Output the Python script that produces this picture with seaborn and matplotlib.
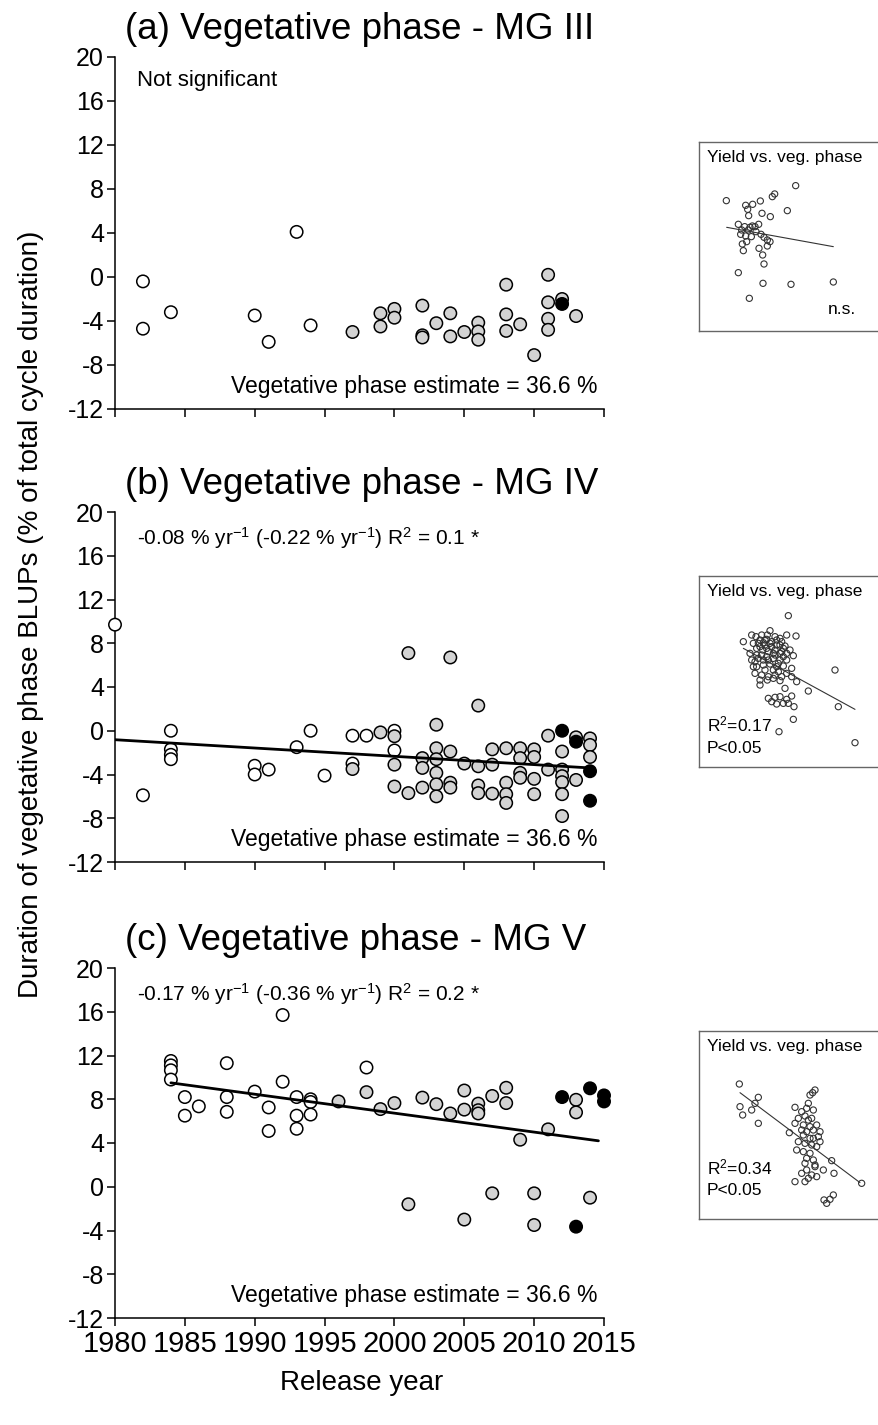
import numpy as np
import pandas as pd
import matplotlib
matplotlib.use("Agg")
import matplotlib.pyplot as plt
import seaborn as sns

# ---------------- data ----------------
# Panel (a) MG III
a_open_year = [1982, 1982, 1984, 1990, 1991, 1993, 1994]
a_open_val = [-0.4, -4.7, -3.2, -3.5, -5.9, 4.1, -4.4]
a_gray_year = [1997, 1999, 1999, 2000, 2000, 2002, 2002, 2002, 2003, 2004, 2004, 2005,
               2006, 2006, 2006, 2008, 2008, 2008, 2009, 2010, 2011, 2011, 2011, 2011,
               2012, 2013]
a_gray_val = [-5.0, -3.3, -4.5, -2.9, -3.7, -2.6, -5.3, -5.5, -4.2, -3.3, -5.4, -5.0,
              -4.15, -4.95, -5.7, -0.7, -3.4, -4.9, -4.3, -7.1, 0.2, -2.3, -3.8, -4.8,
              -2.0, -3.55]
a_black_year = [2012]
a_black_val = [-2.45]

# Panel (b) MG IV
b_open_year = [1980, 1982, 1984, 1984, 1984, 1984, 1990, 1990, 1991, 1993, 1994, 1995,
               1997, 1997, 1998, 2000, 2000]
b_open_val = [9.7, -5.9, 0.0, -1.7, -2.2, -2.6, -3.2, -4.0, -3.55, -1.5, 0.0, -4.1,
              -0.45, -3.0, -0.45, 0.0, -1.8]
b_gray_year = [1997, 1999, 2000, 2000, 2000, 2001, 2001, 2002, 2002, 2002,
               2003, 2003, 2003, 2003, 2003, 2003, 2004, 2004, 2004, 2004, 2005,
               2006, 2006, 2006, 2006, 2007, 2007, 2007, 2008, 2008, 2008, 2008,
               2009, 2009, 2009, 2009, 2010, 2010, 2010, 2010, 2011, 2011,
               2012, 2012, 2012, 2012, 2012, 2012, 2013, 2013, 2014, 2014, 2014]
b_gray_val = [-3.5, -0.15, -0.5, -3.1, -5.1, 7.1, -5.7, -2.5, -3.4, -5.2,
              0.55, -1.6, -2.6, -3.85, -4.9, -6.0, 6.7, -1.9, -4.75, -5.2, -3.0,
              2.3, -3.25, -5.0, -5.7, -1.7, -3.1, -5.75, -1.6, -4.75, -5.8, -6.6,
              -1.6, -2.5, -3.85, -4.3, -1.7, -2.4, -4.4, -5.8, -0.45, -3.55,
              -1.9, -3.55, -4.15, -4.7, -5.8, -7.8, -0.6, -4.5, -0.7, -1.3, -2.4]
b_black_year = [2012, 2013, 2014, 2014]
b_black_val = [0.0, -1.0, -3.7, -6.4]
b_trend_year = [1980, 2014]
b_trend_val = [-0.82, -3.4]

# Panel (c) MG V
c_open_year = [1984, 1984, 1984, 1984, 1985, 1985, 1986, 1988, 1988, 1988, 1990, 1991,
               1991, 1992, 1992, 1993, 1993, 1993, 1994, 1994, 1994, 1998]
c_open_val = [11.5, 11.1, 10.65, 9.8, 8.2, 6.5, 7.35, 11.3, 8.2, 6.85, 8.7, 7.25,
              5.1, 15.7, 9.6, 8.2, 6.5, 5.3, 8.0, 7.75, 6.6, 10.9]
c_gray_year = [1996, 1998, 1999, 2000, 2001, 2002, 2003, 2004, 2005, 2005, 2005,
               2006, 2006, 2006, 2007, 2007, 2008, 2008, 2009, 2010, 2010, 2011,
               2013, 2013, 2014]
c_gray_val = [7.8, 8.65, 7.1, 7.65, -1.6, 8.15, 7.55, 6.7, 8.8, 7.05, -3.0,
              7.6, 7.0, 6.7, 8.3, -0.6, 9.05, 7.65, 4.3, -0.6, -3.5, 5.25,
              7.95, 6.8, -1.0]
c_black_year = [2012, 2013, 2014, 2015, 2015]
c_black_val = [8.2, -3.65, 9.0, 8.35, 7.8]
c_trend_year = [1984, 2014.6]
c_trend_val = [9.5, 4.2]

# Insets: yield vs. vegetative phase (relative units)
ia_veg = [139, 347, 277, 284, 241, 197, 218, 203, 206, 246, 271, 322, 175, 194, 210, 217,
          225, 236, 182, 197, 214, 243, 252, 187, 200, 190, 237, 262, 270, 248, 252, 175,
          249, 333, 460, 208, 185, 228, 205, 262]
ia_yield = [398, 443, 410, 418, 397, 384, 387, 372, 353, 360, 350, 368, 327, 320, 318, 322,
            320, 327, 297, 292, 290, 297, 288, 268, 275, 248, 255, 262, 275, 235, 208, 182,
            150, 147, 154, 105, 310, 305, 310, 280]
ia_line_veg = [140, 460]
ia_line_yield = [318, 260]

ib_veg = [325, 190, 215, 228, 270, 320, 348, 240, 260, 290, 305, 255, 275, 300, 315, 230,
          248, 285, 305, 340, 215, 235, 260, 280, 300, 230, 250, 270, 290, 310, 335, 225,
          245, 265, 285, 305, 335, 350, 240, 262, 280, 300, 465, 385, 265, 285, 300, 320,
          335, 290, 310, 342, 340, 475, 297, 525, 220, 245, 262, 275, 230, 250, 280, 320,
          220, 240, 300, 320, 330, 210, 275, 325, 255, 295, 315, 240, 265, 285, 250, 270,
          290, 310, 260, 280, 245, 265, 295, 310, 225, 320, 255, 235, 285, 300]
ib_yield = [473, 395, 415, 410, 428, 415, 412, 400, 402, 400, 395, 385, 380, 385, 382, 375,
            370, 370, 365, 353, 340, 345, 350, 345, 340, 320, 325, 328, 320, 322, 315, 300,
            295, 290, 295, 290, 290, 275, 265, 280, 285, 278, 310, 247, 225, 228, 230, 222,
            232, 208, 210, 200, 162, 200, 125, 92, 390, 415, 415, 395, 355, 340, 310, 300,
            320, 280, 360, 340, 370, 360, 215, 210, 310, 305, 255, 380, 365, 355, 392, 390,
            385, 375, 375, 360, 355, 340, 330, 350, 335, 360, 400, 390, 410, 405]
ib_line_veg = [190, 525]
ib_line_yield = [375, 192]

ic_veg = [178, 235, 225, 215, 180, 188, 235, 328, 405, 398, 390, 345, 380, 400, 365, 375,
          395, 385, 345, 370, 390, 380, 400, 420, 415, 370, 390, 355, 375, 395, 410, 370,
          390, 350, 380, 400, 375, 405, 430, 455, 462, 345, 375, 385, 395, 410, 365, 545,
          460, 450, 440, 432, 405, 380, 420, 400, 365, 355, 410, 385]
ic_yield = [418, 378, 360, 340, 350, 325, 300, 272, 400, 392, 385, 348, 345, 340, 335, 322,
            315, 310, 300, 295, 290, 275, 280, 275, 260, 265, 255, 245, 240, 235, 230, 215,
            210, 220, 195, 190, 180, 175, 160, 188, 150, 125, 125, 135, 145, 140, 150, 120,
            85, 72, 60, 70, 170, 160, 245, 255, 280, 315, 295, 360]
ic_line_veg = [180, 540]
ic_line_yield = [392, 122]

titles = ["(a) Vegetative phase - MG III", "(b) Vegetative phase - MG IV",
          "(c) Vegetative phase - MG V"]
stat_texts = ["Not significant",
              r"-0.08 % yr$^{-1}$ (-0.22 % yr$^{-1}$) R$^{2}$ = 0.1 *",
              r"-0.17 % yr$^{-1}$ (-0.36 % yr$^{-1}$) R$^{2}$ = 0.2 *"]
estimate_text = "Vegetative phase estimate = 36.6 %"
inset_title = "Yield vs. veg. phase"
inset_stats = [["n.s."], [r"R$^{2}$=0.17", "P<0.05"], [r"R$^{2}$=0.34", "P<0.05"]]
x_ticks = [1980, 1985, 1990, 1995, 2000, 2005, 2010, 2015]
y_ticks = [-12, -8, -4, 0, 4, 8, 12, 16, 20]
y_label = "Duration of vegetative phase BLUPs (% of total cycle duration)"
x_label = "Release year"

# ---------------- style ----------------
sns.set_style("ticks")
plt.rcParams['font.family'] = ['Liberation Sans', 'DejaVu Sans']
plt.rcParams['mathtext.fontset'] = 'custom'
plt.rcParams['mathtext.rm'] = 'Liberation Sans'
plt.rcParams['mathtext.it'] = 'Liberation Sans'
plt.rcParams['mathtext.default'] = 'regular'
plt.rcParams['axes.unicode_minus'] = False
for k in ['text.color', 'axes.labelcolor', 'xtick.color', 'ytick.color', 'axes.edgecolor']:
    plt.rcParams[k] = 'black'

W, H = 879, 1425
fig = plt.figure(figsize=(W / 100, H / 100), dpi=100)

def fx(px):
    return px / W

def fy(py):
    return 1 - py / H

left_px, right_px = 115, 604
panels_px = [(57, 409), (512, 862), (968, 1318)]
insets_px = [(142.3, 331), (576, 766.7), (1030.7, 1219.3)]
inset_ylims = [(7, 573), (20, 592), (12, 578)]

palette = {"open": "white", "gray": "#d3d3d3", "black": "black"}

data_sets = [
    (a_open_year, a_open_val, a_gray_year, a_gray_val, a_black_year, a_black_val, None, None),
    (b_open_year, b_open_val, b_gray_year, b_gray_val, b_black_year, b_black_val,
     b_trend_year, b_trend_val),
    (c_open_year, c_open_val, c_gray_year, c_gray_val, c_black_year, c_black_val,
     c_trend_year, c_trend_val),
]
inset_sets = [
    (ia_veg, ia_yield, ia_line_veg, ia_line_yield),
    (ib_veg, ib_yield, ib_line_veg, ib_line_yield),
    (ic_veg, ic_yield, ic_line_veg, ic_line_yield),
]

inset_fs = 12.5

for i, (top, bot) in enumerate(panels_px):
    ax = fig.add_axes([fx(left_px), fy(bot), fx(right_px - left_px), (bot - top) / H])
    oy, ov, gy, gv, by, bv, ty, tv = data_sets[i]
    df = pd.DataFrame({
        "year": oy + gy + by,
        "value": ov + gv + bv,
        "group": ["open"] * len(oy) + ["gray"] * len(gy) + ["black"] * len(by),
    })
    sns.scatterplot(data=df, x="year", y="value", hue="group", palette=palette,
                    edgecolor="black", linewidth=1.1, s=80, legend=False, ax=ax,
                    zorder=3, clip_on=False)
    if ty is not None:
        sns.lineplot(x=ty, y=tv, color="black", linewidth=2.0, ax=ax, zorder=4)
    ax.set_xlim(1980, 2015)
    ax.set_ylim(-12, 20)
    ax.set_xticks(x_ticks)
    ax.set_yticks(y_ticks)
    ax.set_xlabel("")
    ax.set_ylabel("")
    for s in ["top", "right"]:
        ax.spines[s].set_visible(False)
    for s in ["left", "bottom"]:
        ax.spines[s].set_linewidth(1.1)
        ax.spines[s].set_color("black")
    ax.tick_params(direction="out", length=6, width=1.1, colors="black")
    ax.tick_params(axis="y", labelsize=18, pad=2)
    ax.tick_params(axis="x", labelsize=21, pad=3)
    if i < 2:
        ax.tick_params(axis="x", labelbottom=False)

    fig.text(fx(125), fy(top - 18), titles[i], fontsize=26.5, ha="left",
             va="baseline")
    if i == 0:
        ax.text(1981.55, 17.36, stat_texts[i], fontsize=16, ha="left", va="baseline")
    else:
        ax.text(1981.6, 17.0, stat_texts[i], fontsize=15, ha="left", va="baseline")
    ax.text(2014.5, -10.55, estimate_text, fontsize=16.5, ha="right", va="baseline")

    # inset
    itop, ibot = insets_px[i]
    iax = fig.add_axes([fx(699), fy(ibot), fx(880 - 699), (ibot - itop) / H])
    vx, vy, lx, ly = inset_sets[i]
    sns.scatterplot(x=vx, y=vy, ax=iax, s=20, facecolor="none", edgecolor="#333333",
                    linewidth=0.8, legend=False)
    sns.lineplot(x=lx, y=ly, ax=iax, color="#333333", linewidth=0.8)
    iax.set_xlim(57, 600)
    iax.set_ylim(*inset_ylims[i])
    iax.set_xticks([])
    iax.set_yticks([])
    for s in iax.spines.values():
        s.set_linewidth(1.0)
        s.set_color("#666666")
    iax.text(0.042, 0.893, inset_title, transform=iax.transAxes, fontsize=inset_fs,
             ha="left", va="baseline")
    if i == 0:
        iax.text(0.711, 0.088, inset_stats[0][0], transform=iax.transAxes,
                 fontsize=inset_fs, ha="left", va="baseline")
    elif i == 1:
        iax.text(0.042, 0.187, inset_stats[1][0], transform=iax.transAxes,
                 fontsize=inset_fs, ha="left", va="baseline")
        iax.text(0.042, 0.073, inset_stats[1][1], transform=iax.transAxes,
                 fontsize=inset_fs, ha="left", va="baseline")
    else:
        iax.text(0.042, 0.239, inset_stats[2][0], transform=iax.transAxes,
                 fontsize=inset_fs, ha="left", va="baseline")
        iax.text(0.042, 0.129, inset_stats[2][1], transform=iax.transAxes,
                 fontsize=inset_fs, ha="left", va="baseline")

fig.text(fx(31), fy(614), y_label, rotation=90, fontsize=20, ha="center", va="center")
fig.text(fx(362), fy(1383), x_label, fontsize=20, ha="center", va="center")

fig.savefig("out.png", dpi=100)
